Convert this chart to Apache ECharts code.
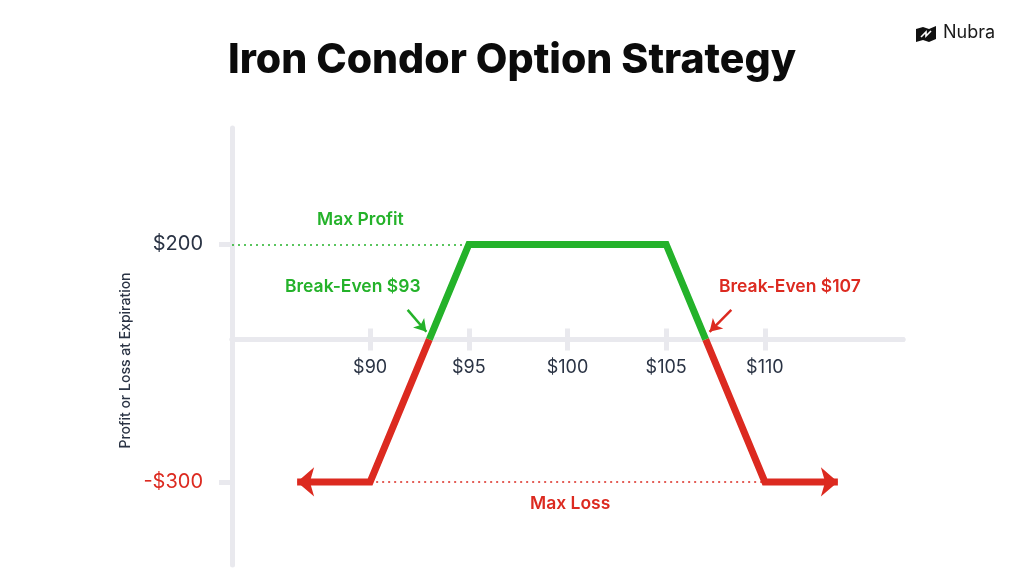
<!DOCTYPE html>
<html>
<head>
<meta charset="utf-8">
<script src="https://cdn.jsdelivr.net/npm/echarts@6/dist/echarts.min.js"></script>
<style>
  html, body { margin: 0; padding: 0; background: #fff; }
  #chart { width: 1024px; height: 576px; }
</style>
</head>
<body>
<div id="chart"></div>
<script>
// payoff at expiration, [strike price, profit/loss]
var lossLeft = [[86.3, -300], [90, -300], [93, 0]];
var profitZone = [[93, 0], [95, 200], [105, 200], [107, 0]];
var lossRight = [[107, 0], [110, -300], [113.7, -300]];

var xTicks = [90, 95, 100, 105, 110];
var yTicks = [-300, 200];
var maxProfit = 200;
var maxLoss = -300;
var breakEvenLow = 93;
var breakEvenHigh = 107;

var GREEN = "#24b22a";
var RED = "#dc2a20";
var INK = "#2a3344";
var AXIS = "#e9e9ee";
var FONT = "Inter, 'Noto Sans', sans-serif";

var chart = echarts.init(document.getElementById("chart"));

function endArrow(point, rotate) {
  return { value: point, symbol: "arrow", symbolSize: [22, 17], symbolRotate: rotate };
}

var yRange = { min: -475, max: 445 };
var gridTop = 128, gridBottom = 11, chartH = 576;
// pixel distance from the grid bottom up to the zero line, so the label axis sits on it
var plotH = chartH - gridTop - gridBottom;
var zeroLift = plotH * (0 - yRange.min) / (yRange.max - yRange.min);

chart.setOption({
  backgroundColor: "#ffffff",
  animation: false,
  title: {
    text: "Iron Condor Option Strategy",
    left: "center",
    top: 35,
    textStyle: { fontFamily: FONT, fontSize: 41, fontWeight: 800, color: "#0b0b0b" }
  },
  grid: { left: 232, right: 121, top: gridTop, bottom: gridBottom, outerBoundsMode: "none", containLabel: false },
  xAxis: [
    {
      type: "value",
      min: 83,
      max: 117,
      axisLine: { onZero: true, onZeroAxisIndex: 0, lineStyle: { color: AXIS, width: 5 } },
      axisTick: { show: true, length: 11, lineStyle: { color: AXIS, width: 5 }, customValues: xTicks },
      axisLabel: { show: false },
      splitLine: { show: false }
    },
    {
      type: "value",
      position: "top",
      min: 83,
      max: 117,
      axisLine: { show: true, onZero: true, onZeroAxisIndex: 1, lineStyle: { color: AXIS, width: 5 } },
      axisTick: { show: true, length: 11, lineStyle: { color: AXIS, width: 5 }, customValues: xTicks },
      axisLabel: { show: false },
      splitLine: { show: false }
    },
    {
      type: "value",
      position: "bottom",
      offset: -zeroLift,
      min: 83,
      max: 117,
      axisLine: { show: false, onZero: false },
      axisTick: { show: false },
      axisLabel: {
        customValues: xTicks,
        margin: 19,
        fontFamily: FONT,
        fontSize: 18,
        color: INK,
        formatter: function (v) { return "$" + v; }
      },
      splitLine: { show: false }
    }
  ],
  yAxis: [
    {
      type: "value",
      min: yRange.min,
      max: yRange.max,
      name: "Profit or Loss at Expiration",
      nameLocation: "middle",
      nameRotate: 90,
      nameGap: 94,
      nameTextStyle: { fontFamily: FONT, fontSize: 14, fontWeight: 500, color: INK, padding: [0, 28, 0, 0] },
      axisLine: { show: true, onZero: false, lineStyle: { color: AXIS, width: 5 } },
      axisTick: { show: true, length: 13, lineStyle: { color: AXIS, width: 5 }, customValues: yTicks },
      axisLabel: {
        customValues: yTicks,
        margin: 29,
        formatter: function (v) {
          return v < 0 ? "{neg|-$" + Math.abs(v) + "}" : "{pos|$" + v + "}";
        },
        rich: {
          neg: { color: RED, fontSize: 20, fontFamily: FONT },
          pos: { color: INK, fontSize: 20, fontFamily: FONT }
        }
      },
      splitLine: { show: false }
    },
    {
      type: "value",
      position: "right",
      min: yRange.min,
      max: yRange.max,
      axisLine: { show: false, onZero: false },
      axisTick: { show: false },
      axisLabel: { show: false },
      splitLine: { show: false }
    }
  ],
  series: [
    {
      name: "Loss (low)",
      type: "line",
      data: [endArrow(lossLeft[0], 90)].concat(lossLeft.slice(1)),
      symbol: "none",
      lineStyle: { color: RED, width: 7, join: "miter" },
      itemStyle: { color: RED },
      z: 3,
      markLine: {
        silent: true,
        symbol: "none",
        label: { show: false },
        lineStyle: { color: RED, width: 1.5, type: [2, 4] },
        data: [[{ coord: [90, maxLoss] }, { coord: [110, maxLoss] }]]
      }
    },
    {
      name: "Profit",
      type: "line",
      data: profitZone,
      symbol: "none",
      lineStyle: { color: GREEN, width: 7, join: "miter" },
      z: 4,
      markLine: {
        silent: true,
        symbol: "none",
        label: { show: false },
        lineStyle: { color: GREEN, width: 1.5, type: [2, 4] },
        data: [[{ coord: [83, maxProfit] }, { coord: [95, maxProfit] }]]
      }
    },
    {
      name: "Loss (high)",
      type: "line",
      data: lossRight.slice(0, 2).concat([endArrow(lossRight[2], -90)]),
      symbol: "none",
      lineStyle: { color: RED, width: 7, join: "miter" },
      itemStyle: { color: RED },
      z: 3
    },
    {
      name: "Break-even pointers",
      type: "line",
      data: [],
      markLine: {
        silent: true,
        symbol: ["none", "arrow"],
        symbolSize: [11, 12],
        label: { show: false },
        data: [
          [{ coord: [breakEvenLow - 1.1, 62], lineStyle: { color: GREEN, width: 2.5, type: "solid" } },
           { coord: [breakEvenLow - 0.15, 16] }],
          [{ coord: [breakEvenHigh + 1.3, 62], lineStyle: { color: RED, width: 2.5, type: "solid" } },
           { coord: [breakEvenHigh + 0.2, 16] }]
        ]
      }
    }
  ],
  graphic: [
    { type: "text", left: 317, top: 211, style: { text: "Max Profit", fontFamily: FONT, fontSize: 17.5, fontWeight: 600, fill: GREEN } },
    { type: "text", left: 285, top: 278, style: { text: "Break-Even $" + breakEvenLow, fontFamily: FONT, fontSize: 17.5, fontWeight: 600, fill: GREEN } },
    { type: "text", left: 719, top: 278, style: { text: "Break-Even $" + breakEvenHigh, fontFamily: FONT, fontSize: 17.5, fontWeight: 600, fill: RED } },
    { type: "text", left: 530, top: 495, style: { text: "Max Loss", fontFamily: FONT, fontSize: 17.5, fontWeight: 600, fill: RED } },
    {
      type: "group",
      left: 916,
      top: 26,
      children: [
        { type: "polygon", shape: { points: [[0, 3], [7, 1], [13, 3], [20, 0], [20, 13], [13, 16], [7, 14], [0, 16]] }, style: { fill: "#111" } },
        { type: "polyline", shape: { points: [[5, 11], [10, 6], [10, 10], [15, 5]] }, style: { stroke: "#fff", lineWidth: 1.6, fill: null } }
      ]
    },
    { type: "text", left: 943, top: 24, style: { text: "Nubra", fontFamily: FONT, fontSize: 18, fontWeight: 400, fill: "#1a1a1a" } }
  ]
});
</script>
</body>
</html>
